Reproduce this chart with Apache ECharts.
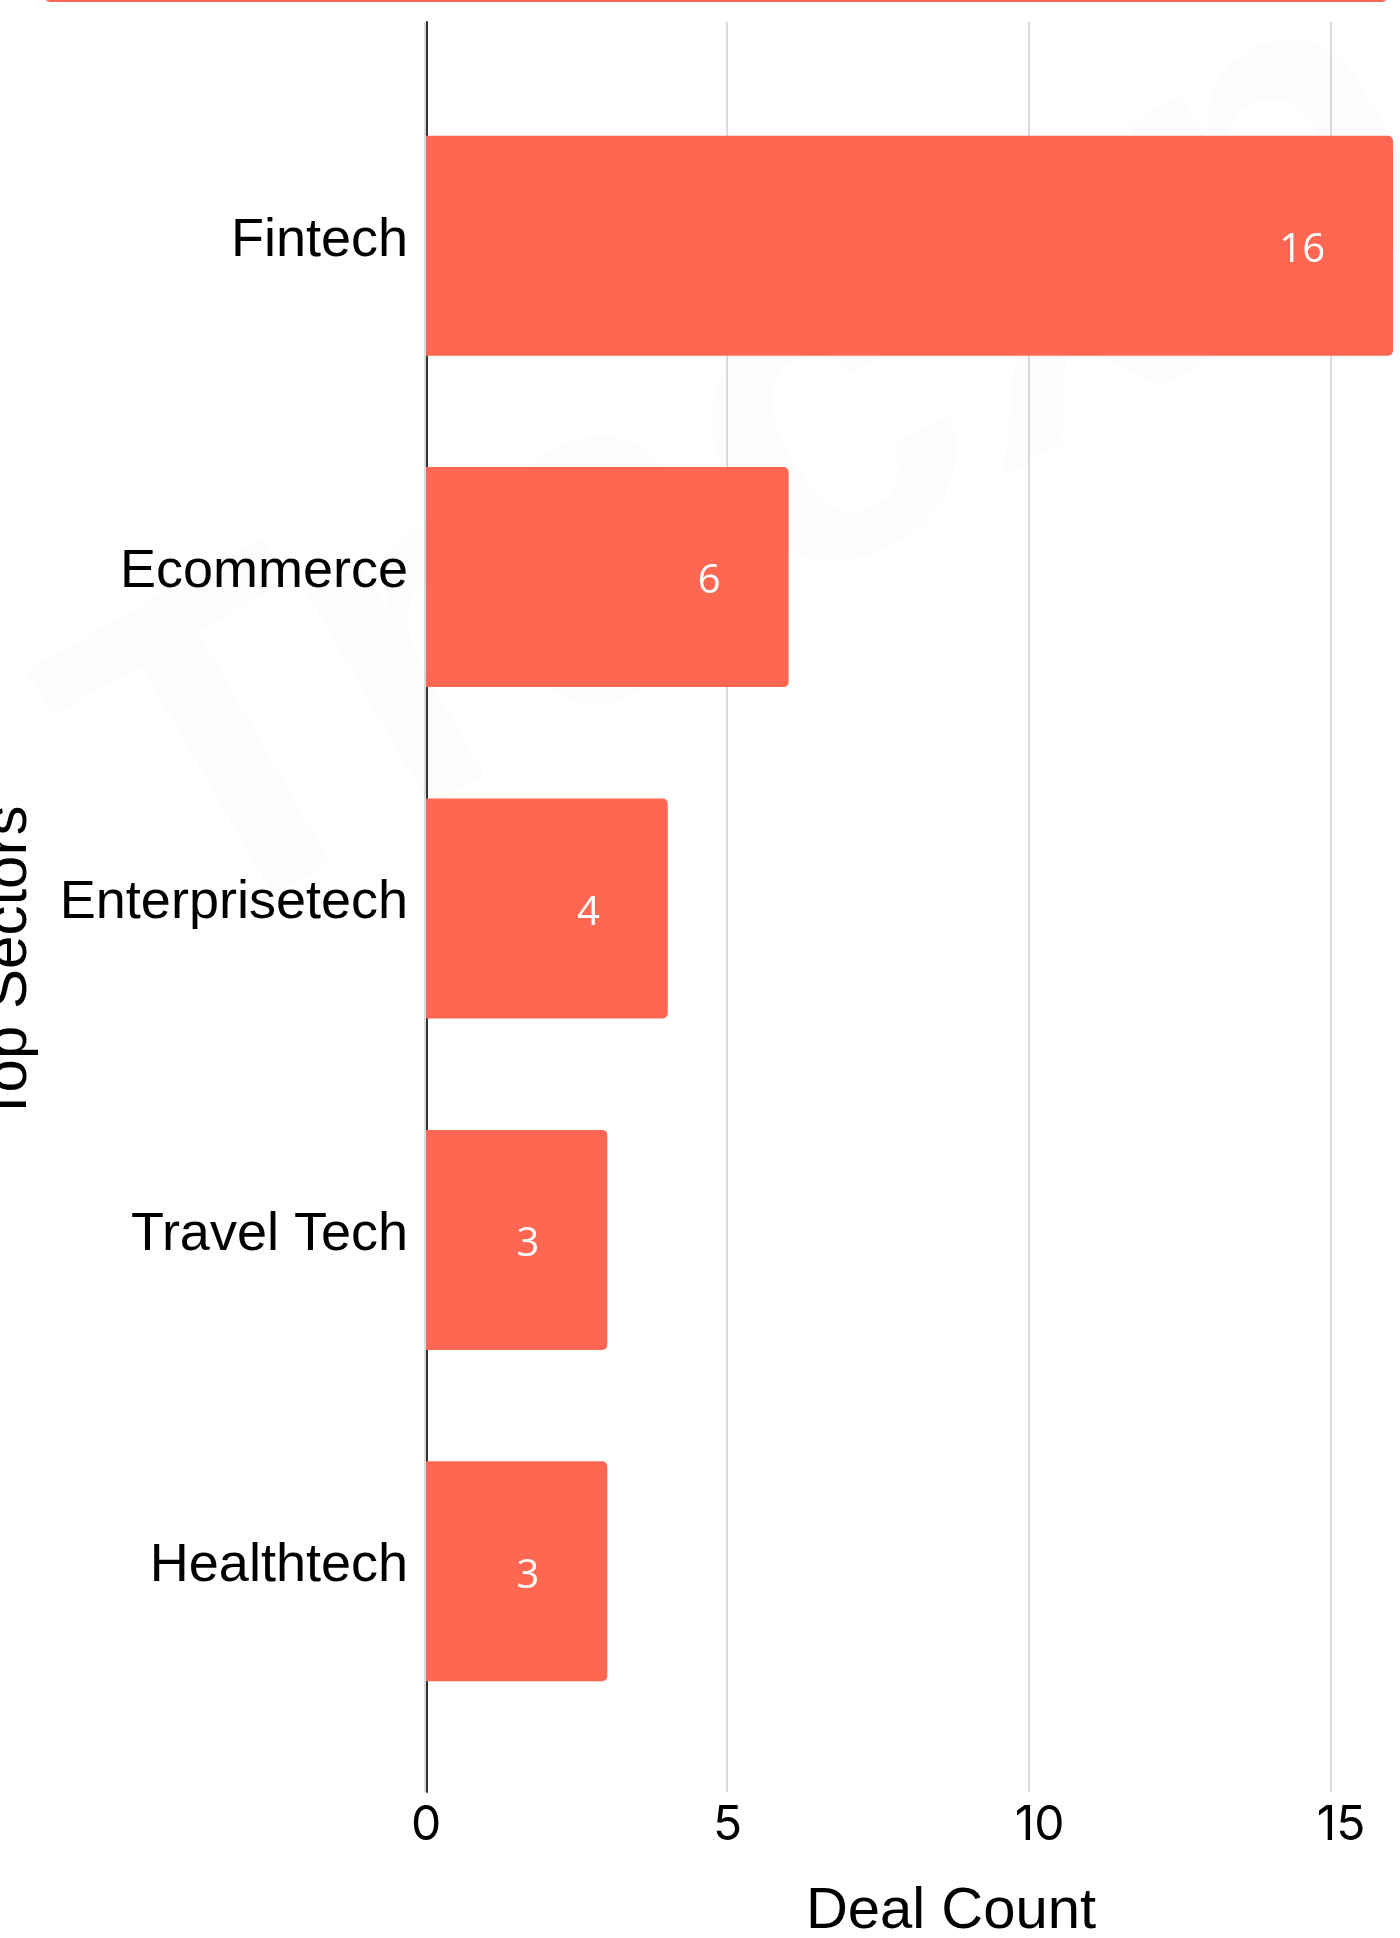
<!DOCTYPE html>
<html>
<head>
<meta charset="utf-8">
<title>Top Sectors</title>
<script src="https://cdn.jsdelivr.net/npm/echarts@6/dist/echarts.min.js"></script>
<style>
  html, body { margin: 0; padding: 0; background: #fff; }
  #chart-box { width: 1400px; height: 1938px; }
</style>
</head>
<body>
<div id="chart-box"></div>
<script>
// 数据
const sectors = ["Fintech", "Ecommerce", "Enterprisetech", "Travel Tech", "Healthtech"];
const dealCounts = [16, 6, 4, 3, 3];
const xMax = 16;
const xInterval = 5;

const barColor = "#ff6752";
const fontMain = "'Liberation Sans', Arial, sans-serif";

const option = {
  backgroundColor: "#fff",
  animation: false,
  grid: [
    { left: 425, right: 9, top: 22, bottom: 146 },
    { left: 426, right: 7, top: 80, bottom: 201 },
  ],
  xAxis: [
    {
      gridIndex: 0,
      type: "value",
      min: 0,
      max: xMax,
      interval: xInterval,
      axisLine: { show: false },
      axisTick: { show: false },
      splitLine: {
        show: true,
        showMaxLine: false,
        lineStyle: { color: "#cfcfcf", width: 1.5 },
      },
      axisLabel: {
        showMaxLabel: false,
        fontSize: 48,
        fontFamily: "Inter, sans-serif",
        color: "#000",
        margin: 10,
        align: "left",
        padding: [0, 0, 0, -14],
      },
    },
    {
      gridIndex: 1,
      type: "value",
      min: 0,
      max: xMax,
      show: false,
    },
  ],
  yAxis: [
    {
      gridIndex: 0,
      type: "value",
      min: 0,
      max: 1,
      offset: -2,
      axisLine: { show: true, onZero: false, lineStyle: { color: "#333", width: 2 } },
      axisTick: { show: false },
      axisLabel: { show: false },
      splitLine: { show: false },
    },
    {
      gridIndex: 1,
      type: "category",
      data: sectors,
      inverse: true,
      axisLine: { show: false },
      axisTick: { show: false },
      splitLine: { show: false },
      axisLabel: {
        margin: 18,
        formatter: (v) => "{n|" + v + "}",
        rich: {
          n: {
            fontSize: 54,
            fontFamily: fontMain,
            color: "#000",
            padding: [0, 0, 10, 0],
          },
        },
      },
    },
  ],
  series: [
    {
      name: "Deal Count",
      type: "bar",
      xAxisIndex: 1,
      yAxisIndex: 1,
      data: dealCounts,
      barWidth: 220,
      itemStyle: { color: barColor, borderRadius: [0, 5, 5, 0] },
      label: {
        show: true,
        position: "insideRight",
        distance: 68,
        offset: [0, 5],
        color: "#fff",
        fontSize: 40,
        fontFamily: "'Open Sans', 'Noto Sans', sans-serif",
      },
    },
  ],
  graphic: [
    // 水印
    {
      type: "text",
      x: 760,
      y: 470,
      rotation: 0.52,
      z: -10,
      silent: true,
      style: {
        text: "Tracxn",
        font: "bold 460px " + fontMain,
        fill: "rgba(0,0,0,0.013)",
        align: "center",
        verticalAlign: "middle",
      },
    },
    // 上一个图表的边
    {
      type: "rect",
      shape: { x: 45, y: -12, width: 1342, height: 14, r: 5 },
      style: { fill: barColor },
      silent: true,
    },
    {
      type: "text",
      x: 9,
      y: 964,
      rotation: Math.PI / 2,
      style: {
        text: "Top Sectors",
        font: "60px " + fontMain,
        fill: "#000",
        align: "center",
        verticalAlign: "middle",
      },
    },
    {
      type: "text",
      x: 951,
      y: 1912,
      style: {
        text: "Deal Count",
        font: "58px " + fontMain,
        fill: "#000",
        align: "center",
        verticalAlign: "middle",
      },
    },
  ],
};

const chartBox = echarts.init(document.getElementById("chart-box"));
chartBox.setOption(option);
</script>
</body>
</html>
